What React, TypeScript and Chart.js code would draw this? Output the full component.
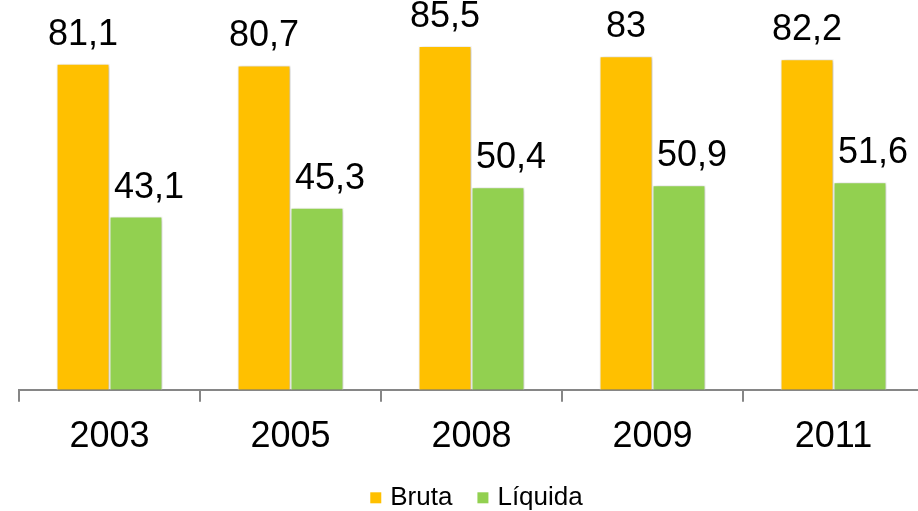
import React, { useEffect, useRef } from "react";
import { Chart, registerables } from "chart.js";

Chart.register(...registerables);

const categories = ["2003", "2005", "2008", "2009", "2011"];
const bruta = [81.1, 80.7, 85.5, 83, 82.2];
const liquida = [43.1, 45.3, 50.4, 50.9, 51.6];
const seriesNames = ["Bruta", "Líquida"];
const colors = ["#FFC000", "#92D050"];

const FONT = "'Liberation Sans', Arial, sans-serif";

const shadowPlugin = {
  id: "barShadow",
  beforeDatasetsDraw(chart: any) {
    const ctx = chart.ctx;
    ctx.save();
    ctx.shadowColor = "rgba(0,0,0,0.28)";
    ctx.shadowBlur = 4;
    ctx.shadowOffsetX = 1;
    ctx.shadowOffsetY = 1;
  },
  afterDatasetsDraw(chart: any) {
    chart.ctx.restore();
  },
};

const labelPlugin = {
  id: "valueLabels",
  afterDatasetsDraw(chart: any) {
    const ctx = chart.ctx;
    ctx.save();
    ctx.font = `36px ${FONT}`;
    ctx.fillStyle = "#000";
    ctx.textAlign = "center";
    ctx.textBaseline = "alphabetic";
    chart.data.datasets.forEach((ds: any, di: number) => {
      const meta = chart.getDatasetMeta(di);
      meta.data.forEach((el: any, i: number) => {
        const v = ds.data[i] as number;
        const txt = String(v).replace(".", ",");
        ctx.fillText(txt, el.x + (di === 1 ? 13 : 0), el.y - 19);
      });
    });
    ctx.restore();
  },
};

const legendPlugin = {
  id: "customLegend",
  afterDraw(chart: any) {
    const ctx = chart.ctx;
    const area = chart.chartArea;
    ctx.save();
    ctx.font = `26px ${FONT}`;
    ctx.textBaseline = "middle";
    ctx.textAlign = "left";
    const box = 11;
    const gapText = 9;
    const gapItem = 25;
    const widths = seriesNames.map((n) => box + gapText + ctx.measureText(n).width);
    const total = widths.reduce((a, b) => a + b, 0) + gapItem * (seriesNames.length - 1);
    let x = (area.left + area.right) / 2 + 5 - total / 2;
    const cy = area.bottom + 108;
    seriesNames.forEach((n, i) => {
      ctx.fillStyle = colors[i];
      ctx.fillRect(x, cy - box / 2, box, box);
      ctx.fillStyle = "#000";
      ctx.fillText(n, x + box + gapText, cy);
      x += widths[i] + gapItem;
    });
    ctx.restore();
  },
};

export default function App() {
  const ref = useRef<HTMLCanvasElement>(null);
  useEffect(() => {
    if (!ref.current) return;
    const chart = new Chart(ref.current, {
      type: "bar",
      data: {
        labels: categories,
        datasets: [
          {
            label: seriesNames[0],
            data: bruta,
            backgroundColor: colors[0],
            borderColor: "#ffffff",
            borderWidth: 1,
          },
          {
            label: seriesNames[1],
            data: liquida,
            backgroundColor: colors[1],
            borderColor: "#ffffff",
            borderWidth: 1,
          },
        ],
      },
      options: {
        animation: false,
        responsive: false,
        maintainAspectRatio: false,
        layout: { padding: { left: 19, right: 0, top: 28, bottom: 38 } },
        datasets: {
          bar: { categoryPercentage: 0.585, barPercentage: 1 },
        },
        plugins: {
          legend: { display: false },
          tooltip: { enabled: false },
        },
        scales: {
          x: {
            grid: {
              offset: true,
              drawOnChartArea: false,
              drawTicks: true,
              tickLength: 12,
              color: "#868686",
              lineWidth: 2,
            },
            border: { display: true, color: "#868686", width: 2 },
            ticks: {
              color: "#000",
              font: { family: FONT, size: 36 },
              padding: 14,
            },
          },
          y: {
            display: false,
            min: 0,
            max: 90,
          },
        },
      },
      plugins: [shadowPlugin, labelPlugin, legendPlugin],
    });
    return () => chart.destroy();
  }, []);
  return (
    <div
      style={{
        position: "fixed",
        left: 0,
        top: 0,
        width: 918,
        height: 511,
        overflow: "hidden",
        background: "#fff",
      }}
    >
      <canvas ref={ref} width={924} height={511} style={{ display: "block" }} />
    </div>
  );
}
